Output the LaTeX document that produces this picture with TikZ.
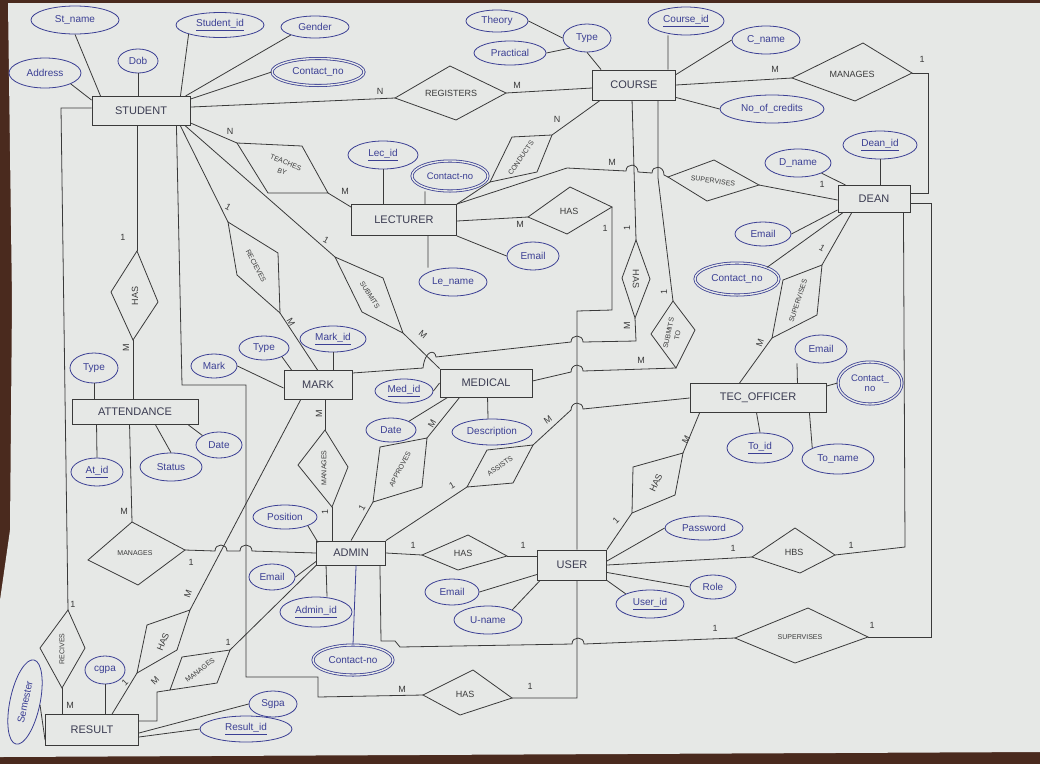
\documentclass[tikz,border=0pt]{standalone}
\usepackage{fontspec}
\setmainfont{Liberation Sans}
\usetikzlibrary{shapes.geometric,calc}
\definecolor{ink}{HTML}{3B3F94}
\definecolor{pen}{HTML}{3A3A3A}
\definecolor{paper}{HTML}{E6E8E6}
\definecolor{wood}{HTML}{4A2A1E}
\tikzset{
 ent/.style={draw=pen, line width=0.9pt, inner sep=0pt, text=pen!75!ink, font=\fontsize{11}{12}\selectfont},
 att/.style={ellipse, draw=ink, line width=0.8pt, text=ink, inner sep=0pt, font=\fontsize{10}{11}\selectfont, align=center},
 datt/.style={att, double=paper, double distance=1.4pt},
 rel/.style={draw=pen, line width=0.8pt},
 reltext/.style={text=pen, font=\fontsize{9}{10}\selectfont, inner sep=0pt, align=center},
 card/.style={text=pen, font=\fontsize{9}{9}\selectfont, inner sep=0pt},
 con/.style={draw=pen, line width=0.8pt},
}
\newcommand{\relship}[8]{%
  \coordinate (#1-w) at (#2); \coordinate (#1-n) at (#3);
  \coordinate (#1-e) at (#4); \coordinate (#1-s) at (#5);
  \draw[rel] (#1-w) -- (#1-n) -- (#1-e) -- (#1-s) -- cycle;
  \node[reltext, rotate=#7] (#1) at (#6) {#8};}
\newcommand{\card}[4]{\node[card, rotate=#3] (#1) at (#2) {#4};}
\newcommand{\sm}{\fontsize{7}{7.5}\selectfont}
\begin{document}
\begin{tikzpicture}[x=1pt,y=-1pt]
\useasboundingbox (0,0) rectangle (1040,764);
\fill[wood] (0,0) rectangle (1040,764);
\fill[paper] (8,3) -- (1040,3) -- (1040,752) -- (0,757) -- (0,600) -- (10,530) -- (12,300) -- cycle;

% ---------- entities
\node[ent, minimum width=98, minimum height=29] (stud) at (141,111) {STUDENT};
\node[ent, minimum width=83, minimum height=30] (course) at (634,85) {COURSE};
\node[ent, minimum width=105, minimum height=31] (lect) at (404,220) {LECTURER};
\node[ent, minimum width=72, minimum height=27] (dean) at (874,199) {DEAN};
\node[ent, minimum width=68, minimum height=29] (mark) at (318,385) {MARK};
\node[ent, minimum width=92, minimum height=28] (med) at (486,383) {MEDICAL};
\node[ent, minimum width=126, minimum height=25] (att) at (135,412) {ATTENDANCE};
\node[ent, minimum width=136, minimum height=29] (tec) at (758,398) {TEC\_OFFICER};
\node[ent, minimum width=69, minimum height=24] (admin) at (351,553) {ADMIN};
\node[ent, minimum width=69, minimum height=30] (user) at (572,565) {USER};
\node[ent, minimum width=93, minimum height=31] (result) at (92,730) {RESULT};

% ---------- attributes
\node[att, minimum width=88, minimum height=28] (stname) at (75,20) {St\_name};
\node[att, minimum width=88, minimum height=25] (stid) at (220,25) {\underline{Student\_id}};
\node[att, minimum width=68, minimum height=22] (gender) at (315,27) {Gender};
\node[datt, minimum width=92, minimum height=27] (scon) at (318,72) {Contact\_no};
\node[att, minimum width=40, minimum height=24] (dob) at (138,61) {Dob};
\node[att, minimum width=72, minimum height=30] (addr) at (45,73) {Address};
\node[att, minimum width=62, minimum height=22] (theory) at (497,21) {Theory};
\node[att, minimum width=72, minimum height=24] (pract) at (510,53) {Practical};
\node[att, minimum width=48, minimum height=28] (ctype) at (587,38) {Type};
\node[att, minimum width=76, minimum height=28] (cid) at (686,21) {\underline{Course\_id}};
\node[att, minimum width=68, minimum height=28] (cname) at (766,40) {C\_name};
\node[att, minimum width=104, minimum height=28] (credits) at (772,109) {No\_of\_credits};
\node[att, minimum width=74, minimum height=28] (did) at (880,145) {\underline{Dean\_id}};
\node[att, minimum width=66, minimum height=28] (dname) at (798,163) {D\_name};
\node[att, minimum width=56, minimum height=24] (demail) at (763,234) {Email};
\node[datt, minimum width=84, minimum height=32] (dcon) at (737,279) {Contact\_no};
\node[att, minimum width=70, minimum height=28] (lid) at (383,155) {\underline{Lec\_id}};
\node[datt, minimum width=76, minimum height=30, font=\fontsize{9.5}{10}\selectfont] (lcon) at (450,176) {Contact-no};
\node[att, minimum width=52, minimum height=28] (lemail) at (533,256) {Email};
\node[att, minimum width=68, minimum height=28] (lname) at (453,282) {Le\_name};
\node[att, minimum width=66, minimum height=26] (mid) at (333,339) {\underline{Mark\_id}};
\node[att, minimum width=50, minimum height=24] (mtype) at (264,348) {Type};
\node[att, minimum width=46, minimum height=24] (mmark) at (214,366) {Mark};
\node[att, minimum width=48, minimum height=30] (atype) at (94,368) {Type};
\node[att, minimum width=52, minimum height=28] (atid) at (97,472) {\underline{At\_id}};
\node[att, minimum width=62, minimum height=28] (astat) at (171,467) {Status};
\node[att, minimum width=46, minimum height=26] (adate) at (219,445) {Date};
\node[att, minimum width=58, minimum height=24] (medid) at (404,391) {\underline{Med\_id}};
\node[att, minimum width=50, minimum height=24] (meddate) at (391,430) {Date};
\node[att, minimum width=80, minimum height=26] (desc) at (492,432) {Description};
\node[att, minimum width=64, minimum height=24] (pos) at (285,517) {Position};
\node[att, minimum width=46, minimum height=26] (adem) at (272,577) {Email};
\node[att, minimum width=72, minimum height=30] (adid) at (316,612) {\underline{Admin\_id}};
\node[datt, minimum width=80, minimum height=30] (adcon) at (353,660) {Contact-no};
\node[att, minimum width=54, minimum height=26] (uemail) at (452,592) {Email};
\node[att, minimum width=68, minimum height=28] (uname) at (488,620) {U-name};
\node[att, minimum width=78, minimum height=24] (upass) at (704,528) {Password};
\node[att, minimum width=46, minimum height=24] (urole) at (713,587) {Role};
\node[att, minimum width=68, minimum height=28] (uid) at (650,604) {\underline{User\_id}};
\node[att, minimum width=52, minimum height=28] (temail) at (821,349) {Email};
\node[datt, minimum width=64, minimum height=42, font=\fontsize{9.5}{10}\selectfont] (tcon) at (870,383) {Contact\_\\no};
\node[att, minimum width=66, minimum height=30] (tid) at (760,448) {\underline{To\_id}};
\node[att, minimum width=72, minimum height=30] (tname) at (838,459) {To\_name};
\node[att, minimum width=40, minimum height=28] (cgpa) at (105,670) {cgpa};
\node[att, minimum width=86, minimum height=30, rotate=78] (sem) at (25,702) {Semester};
\node[att, minimum width=48, minimum height=26] (sgpa) at (273,704) {Sgpa};
\node[att, minimum width=92, minimum height=26] (resid) at (246,729) {\underline{Result\_id}};

% ---------- relationships
\relship{reg}{395,98}{450,66}{506,93}{456,120}{451,93}{0}{REGISTERS}
\relship{cman}{792,78}{863,43}{912,73}{855,101}{852,74}{0}{MANAGES}
\relship{teach}{237,143}{302,146}{328,193}{268,193}{284,167}{-22}{{\sm TEACHES}\\{\sm BY}}
\relship{cond}{512,137}{552,135}{537,172}{490,182}{521,158}{55}{\sm CONDUCTS}
\relship{lhas}{528,217}{570,187}{612,207}{567,234}{569,211}{0}{HAS}
\relship{csup}{668,177}{714,160}{759,185}{707,201}{713,181}{-8}{\sm SUPERVISES}
\relship{chas}{622,278}{636,240}{650,279}{635,318}{636,279}{-90}{HAS}
\relship{sto}{651,334}{673,301}{695,330}{676,368}{673,334}{78}{{\sm SUBMITS}\\[-1pt]{\sm TO}}
\relship{dsup}{783,280}{822,265}{817,315}{772,338}{798,301}{72}{\sm SUPERVISES}
\relship{shas}{111,292}{137,251}{158,302}{133,340}{135,296}{90}{HAS}
\relship{recv}{228,222}{278,253}{280,313}{237,275}{256,266}{-62}{\sm RECIEVES}
\relship{subm}{335,257}{383,278}{403,333}{362,312}{370,295}{-58}{\sm SUBMITS}
\relship{mman}{298,465}{325,430}{348,467}{332,507}{324,468}{90}{\sm MANAGES}
\relship{appr}{373,502}{380,447}{427,438}{422,487}{400,469}{62}{\sm APPROVES}
\relship{asst}{467,487}{487,450}{533,445}{513,483}{500,466}{36}{\sm ASSISTS}
\relship{tohas}{632,513}{633,467}{683,453}{675,495}{656,483}{65}{HAS}
\relship{aman}{88,560}{132,522}{185,550}{138,585}{135,553}{0}{\sm MANAGES}
\relship{ahas}{422,555}{468,535}{507,556}{458,570}{463,553}{0}{HAS}
\relship{rhas}{137,673}{147,625}{190,610}{177,650}{163,642}{68}{HAS}
\relship{rman}{170,690}{182,657}{230,650}{217,683}{200,670}{38}{\sm MANAGES}
\relship{rcv}{40,648}{68,610}{85,648}{62,688}{62,649}{90}{\sm RECIVES}
\relship{bhas}{423,695}{473,670}{512,698}{460,715}{465,694}{0}{HAS}
\relship{hbs}{752,557}{795,528}{835,555}{800,573}{794,552}{0}{HBS}
\relship{bsup}{735,638}{808,608}{868,637}{795,663}{800,637}{0}{\sm SUPERVISES}

% ---------- attribute links
\draw[con] (stname.south) -- ($(stud.north west)+(9,0)$);
\draw[con] (addr.south east) -- ($(stud.north west)+(0,4)$);
\draw[con] (dob.south) -- (dob.south |- stud.north);
\draw[con] (stid.south west) -- ($(stud.north east)+(-10,0)$);
\draw[con] (gender.south west) -- ($(stud.north east)+(-5,0)$);
\draw[con] (scon.west) -- ($(stud.north east)+(0,3)$);
\draw[con] (theory.east) -- (ctype.west);
\draw[con] (pract.east) -- (ctype.south west);
\draw[con] (ctype.south) -- ($(course.north west)+(9,0)$);
\draw[con] ($(course.north east)+(-8,0)$) -- (cid.south -| 668,0);
\draw[con] (cname.west) -- ($(course.north east)+(0,5)$);
\draw[con] (credits.west) -- ($(course.south east)+(0,-3)$);
\draw[con] (did.south) -- (did.south |- dean.north);
\draw[con] (dname.south east) -- ($(dean.north west)+(8,0)$);
\draw[con] (demail.east) -- ($(dean.south west)+(0,-3)$);
\draw[con] (dcon.north east) -- ($(dean.south west)+(5,0)$);
\draw[con] (lid.south) -- (lid.south |- lect.north);
\draw[con] ($(lect.north west)+(74,0)$) -- (lcon.south -| 425,0);
\draw[con] ($(lect.south west)+(77,0)$) -- (lname.north -| 428,0);
\draw[con] (lemail.west) -- (lect.south east);
\draw[con] (mid.south) -- (mid.south |- mark.north);
\draw[con] (mtype.south east) -- ($(mark.north west)+(8,0)$);
\draw[con] (mmark.east) -- ($(mark.west)+(0,3)$);
\draw[con] (atype.south) -- (atype.south |- att.north);
\draw[con] ($(att.south west)+(25,0)$) -- (atid.north);
\draw[con] ($(att.south west)+(84,0)$) -- (astat.north);
\draw[con] ($(att.south east)+(-10,0)$) -- (adate.north west);
\draw[con] (medid.east) -- (med.west);
\draw[con] (meddate.north east) -- ($(med.south west)+(8,0)$);
\draw[con] ($(med.south west)+(48,0)$) -- (desc.north -| 488,0);
\draw[con] ($(tec.north east)+(-29,0)$) -- (temail.south -| 797,0);
\draw[con] (tcon.west) -- ($(tec.north east)+(0,3)$);
\draw[con] ($(tec.south west)+(67,0)$) -- (tid.north);
\draw[con] ($(tec.south east)+(-17,0)$) -- (tname.north west);
\draw[con] (pos.south east) -- ($(admin.north west)+(2,2)$);
\draw[con] (adem.east) -- ($(admin.south west)+(0,-4)$);
\draw[con] ($(admin.south west)+(10,0)$) -- (adid.north -| 327,0);
\draw[draw=ink, line width=0.8pt] ($(admin.south west)+(40,0)$) -- (adcon.north);
\draw[con] (uemail.east) -- ($(user.south west)+(0,-6)$);
\draw[con] (uname.north east) -- ($(user.south west)+(3,0)$);
\draw[con] (upass.west) -- ($(user.east)+(0,-4)$);
\draw[con] (urole.west) -- ($(user.south east)+(0,-8)$);
\draw[con] (uid.north west) -- (user.south east);
\draw[con] (cgpa.south) -- (cgpa.south |- result.north);
\draw[con] ($(result.south west)+(0,-6)$) -- (sem.south);
\draw[con] (sgpa.west) -- ($(result.east)+(0,3)$);
\draw[con] (resid.west) -- ($(result.east)+(0,7)$);

% ---------- relationship links
\draw[con] ($(stud.north east)+(0,11)$) -- (reg-w);
\draw[con] (reg-e) -- ($(course.west)+(0,3)$);
\draw[con] ($(stud.south east)+(0,-3)$) -- (teach-w);
\draw[con] (teach-e) -- ($(lect.north west)+(0,3)$);
\draw[con] ($(stud.south east)+(-10,0)$) -- (recv-w);
\draw[con] (recv-e) -- ($(mark.north west)+(34,0)$);
\draw[con] ($(stud.south east)+(-5,0)$) -- (subm-w);
\draw[con] (subm-e) -- (med.north west);
\draw[con] (shas-n) -- (shas-n |- stud.south);
\draw[con] (shas-s) -- (shas-s |- att.north);
\draw[con] ($(stud.west)+(0,-3)$) -- (61,108) -- (rcv-n);
\draw[con] (rcv-s) -- (rcv-s |- result.north);
\draw[con] ($(stud.south east)+(-14,0)$) -- (182,385) -- (246,385) -- (246,677) -- (318,677) -- (318,697) -- (bhas-w);
\draw[con] (bhas-e) -- (577,698) -- ($(user.south west)+(40,0)$);
\draw[con] (cond-n) -- ($(course.south west)+(8,0)$);
\draw[con] (cond-s) -- (lect.north east);
\draw[con] ($(lect.east)+(0,1)$) -- (lhas-w);
\draw[con] (lhas-e) -- (612,310) -- (577,311) -- ($(user.north west)+(40,0)$);
\draw[con] (lect.north east) -- (567,168) -- (626,171) .. controls (626,163) and (638,163) .. (638,172)
  -- (652,173) .. controls (652,165) and (664,165) .. (664,175) -- (csup-w);
\draw[con] (csup-e) -- ($(dean.west)+(0,1)$);
\draw[con] ($(course.south west)+(40,0)$) -- (chas-n);
\draw[con] (chas-s) -- (636,341) -- (583,342) .. controls (583,334) and (571,334) .. (571,342)
  -- (436,357) .. controls (435,349) and (425,350) .. (423,368) -- ($(mark.east)+(0,-12)$);
\draw[con] (sto-n) -- (658,178) -- ($(course.south east)+(-18,0)$);
\draw[con] (sto-s) -- (583,371) .. controls (583,363) and (571,363) .. (571,372) -- ($(med.east)+(0,-2)$);
\draw[con] (course.east) -- (cman-w);
\draw[con] (cman-e) -- (928,73) -- (928,193) -- ($(dean.east)+(0,-6)$);
\draw[con] ($(dean.east)+(0,4)$) -- (931,203) -- (931,637) -- (bsup-e);
\draw[con] ($(dean.south east)+(-7,0)$) -- (905,547) -- (hbs-e);
\draw[con] ($(dean.south west)+(14,0)$) -- (dsup-n);
\draw[con] (dsup-s) -- ($(tec.north west)+(50,0)$);
\draw[con] (tec.west) -- (583,409) .. controls (583,401) and (571,401) .. (571,410) -- (asst-e);
\draw[con] (asst-w) -- (admin.north east);
\draw[con] ($(tec.south west)+(10,0)$) -- (tohas-e);
\draw[con] (tohas-w) -- (user.north east);
\draw[con] (appr-e) -- ($(med.south west)+(20,0)$);
\draw[con] (appr-w) -- ($(admin.north west)+(35,0)$);
\draw[con] (mman-n) -- (mman-n |- mark.south);
\draw[con] (mman-s) -- (mman-s |- admin.north);
\draw[con] (admin.east) -- (ahas-w);
\draw[con] (ahas-e) -- ($(user.west)+(0,-9)$);
\draw[con] ($(admin.south east)+(-6,0)$) -- (381,641) -- (395,641) -- (400,647) -- (572,644)
  .. controls (572,636) and (584,636) .. (584,644) -- (bsup-w);
\draw[con] (user.east) -- (hbs-w);
\draw[con] ($(att.south west)+(58,0)$) -- (aman-n);
\draw[con] (aman-e) -- (215,551) .. controls (215,543) and (227,543) .. (227,551) -- (240,551)
  .. controls (240,543) and (252,543) .. (252,551) -- (admin.west);
\draw[con] ($(mark.south west)+(17,0)$) -- (rhas-e);
\draw[con] (rhas-w) -- ($(result.north west)+(67,0)$);
\draw[con] ($(result.east)+(0,-9)$) -- (157,721) -- (157,692) -- (rman-w);
\draw[con] (rman-e) -- (admin.south west);

% ---------- cardinalities
\card{k1}{380,91}{0}{N}
\card{k2}{517,85}{0}{M}
\card{k3}{230,131}{0}{N}
\card{k4}{345,191}{0}{M}
\card{k5}{557,119}{0}{N}
\card{k6}{228,207}{-30}{1}
\card{k7}{291,322}{-60}{M}
\card{k8}{326,240}{-30}{1}
\card{k9}{423,335}{-40}{M}
\card{k10}{123,237}{0}{1}
\card{k11}{126,348}{90}{M}
\card{k12}{775,69}{0}{M}
\card{k13}{922,59}{0}{1}
\card{k14}{612,162}{0}{M}
\card{k15}{822,184}{0}{1}
\card{k16}{520,224}{0}{M}
\card{k17}{605,228}{0}{1}
\card{k18}{627,228}{90}{1}
\card{k19}{627,326}{90}{M}
\card{k20}{664,292}{90}{1}
\card{k21}{641,360}{0}{M}
\card{k22}{822,248}{-30}{1}
\card{k23}{760,343}{70}{M}
\card{k24}{319,414}{90}{M}
\card{k25}{325,512}{90}{1}
\card{k26}{432,424}{60}{M}
\card{k27}{362,508}{60}{1}
\card{k28}{548,420}{35}{M}
\card{k29}{452,486}{30}{1}
\card{k30}{686,440}{60}{M}
\card{k31}{616,521}{45}{1}
\card{k32}{124,511}{0}{M}
\card{k33}{191,562}{0}{1}
\card{k34}{73,604}{0}{1}
\card{k35}{70,705}{0}{M}
\card{k36}{125,683}{45}{1}
\card{k37}{188,594}{70}{M}
\card{k38}{155,681}{45}{M}
\card{k39}{228,642}{0}{1}
\card{k40}{413,545}{0}{1}
\card{k41}{523,545}{0}{1}
\card{k42}{402,689}{0}{M}
\card{k43}{530,686}{0}{1}
\card{k44}{733,548}{0}{1}
\card{k45}{851,545}{0}{1}
\card{k46}{715,628}{0}{1}
\card{k47}{872,625}{0}{1}
\end{tikzpicture}
\end{document}
